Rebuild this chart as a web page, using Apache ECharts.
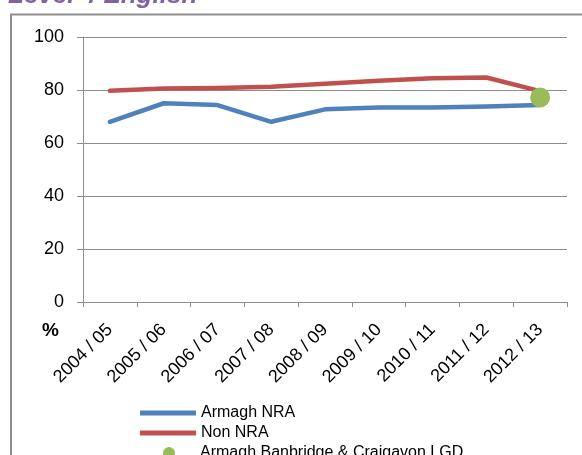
<!DOCTYPE html>
<html>
<head>
<meta charset="utf-8">
<script src="https://cdn.jsdelivr.net/npm/echarts@6/dist/echarts.min.js"></script>
<style>
html,body{margin:0;padding:0;background:#fff;}
#c{width:582px;height:455px;}
</style>
</head>
<body>
<div id="c"></div>
<script>
const categories = ['2004 / 05','2005 / 06','2006 / 07','2007 / 08','2008 / 09','2009 / 10','2010 / 11','2011 / 12','2012 / 13'];
const armaghNRA = [68, 75, 74.3, 68, 72.7, 73.4, 73.4, 73.8, 74.3];
const nonNRA = [79.7, 80.6, 80.8, 81.2, 82.4, 83.5, 84.4, 84.7, 79.6];
const lgd = [null, null, null, null, null, null, null, null, 77.2];
const yTicks = {min: 0, max: 100, interval: 20};
const seriesNames = ['Armagh NRA', 'Non NRA', 'Armagh Banbridge & Craigavon LGD'];

const font = 'Liberation Sans, Arial, sans-serif';
const lineIcon = 'path://M0,0 L56,0 L56,5 L0,5 Z';
function legendRow(name, left, top, icon, w, textPad) {
  return {
    orient: 'vertical', left: left, top: top, padding: 0,
    itemWidth: w, itemHeight: 12, itemGap: 0,
    textStyle: {color: '#000', fontSize: 16, fontFamily: font, padding: [0, 0, 0, textPad]},
    data: [{name: name, icon: icon}]
  };
}
const chart = echarts.init(document.getElementById('c'), null, {renderer: 'canvas'});
chart.setOption({
  animation: false,
  backgroundColor: '#fff',
  graphic: [
    {type: 'rect', shape: {x: 11, y: 14.5, width: 620, height: 500}, style: {fill: 'none', stroke: '#8e8e8e', lineWidth: 2}, z: -1},
    {type: 'text', left: 8, top: -17, style: {text: 'Level 4 English', fill: '#8064A2', font: 'italic bold 26px Liberation Sans, Arial, sans-serif'}},
    {type: 'text', left: 42, top: 321, style: {text: '%', fill: '#000', font: 'bold 19px Liberation Sans, Arial, sans-serif'}}
  ],
  grid: {left: 83, right: 15, top: 37, bottom: 153, containLabel: false},
  xAxis: {
    type: 'category',
    data: categories,
    boundaryGap: true,
    axisLine: {lineStyle: {color: '#8c8c8c', width: 1}},
    axisTick: {show: true, alignWithLabel: false, length: 5, lineStyle: {color: '#8c8c8c'}},
    axisLabel: {rotate: 45, color: '#000', fontSize: 18, fontFamily: font, margin: 25, interval: 0},
    splitLine: {show: false}
  },
  yAxis: {
    type: 'value',
    min: yTicks.min, max: yTicks.max, interval: yTicks.interval,
    axisLine: {show: true, lineStyle: {color: '#8c8c8c', width: 1}},
    axisTick: {show: true, length: 6, lineStyle: {color: '#8c8c8c'}},
    axisLabel: {color: '#000', fontSize: 18, fontFamily: font, margin: 19},
    splitLine: {lineStyle: {color: '#8c8c8c', width: 1}}
  },
  legend: [
    legendRow(seriesNames[0], 140, 405, lineIcon, 56, 0),
    legendRow(seriesNames[1], 140, 425, lineIcon, 56, 0),
    legendRow(seriesNames[2], 163, 445, 'circle', 12, 20)
  ],
  series: [
    {name: seriesNames[0], type: 'line', data: armaghNRA, symbol: 'none', lineStyle: {color: '#4F81BD', width: 4.5, cap: 'round', join: 'round'}, itemStyle: {color: '#4F81BD'}, z: 2},
    {name: seriesNames[1], type: 'line', data: nonNRA, symbol: 'none', lineStyle: {color: '#C0504D', width: 4.5, cap: 'round', join: 'round'}, itemStyle: {color: '#C0504D'}, z: 3},
    {name: seriesNames[2], type: 'scatter', data: lgd, symbol: 'circle', symbolSize: 20, itemStyle: {color: '#9BBB59', opacity: 1}, z: 4}
  ]
});
</script>
</body>
</html>
